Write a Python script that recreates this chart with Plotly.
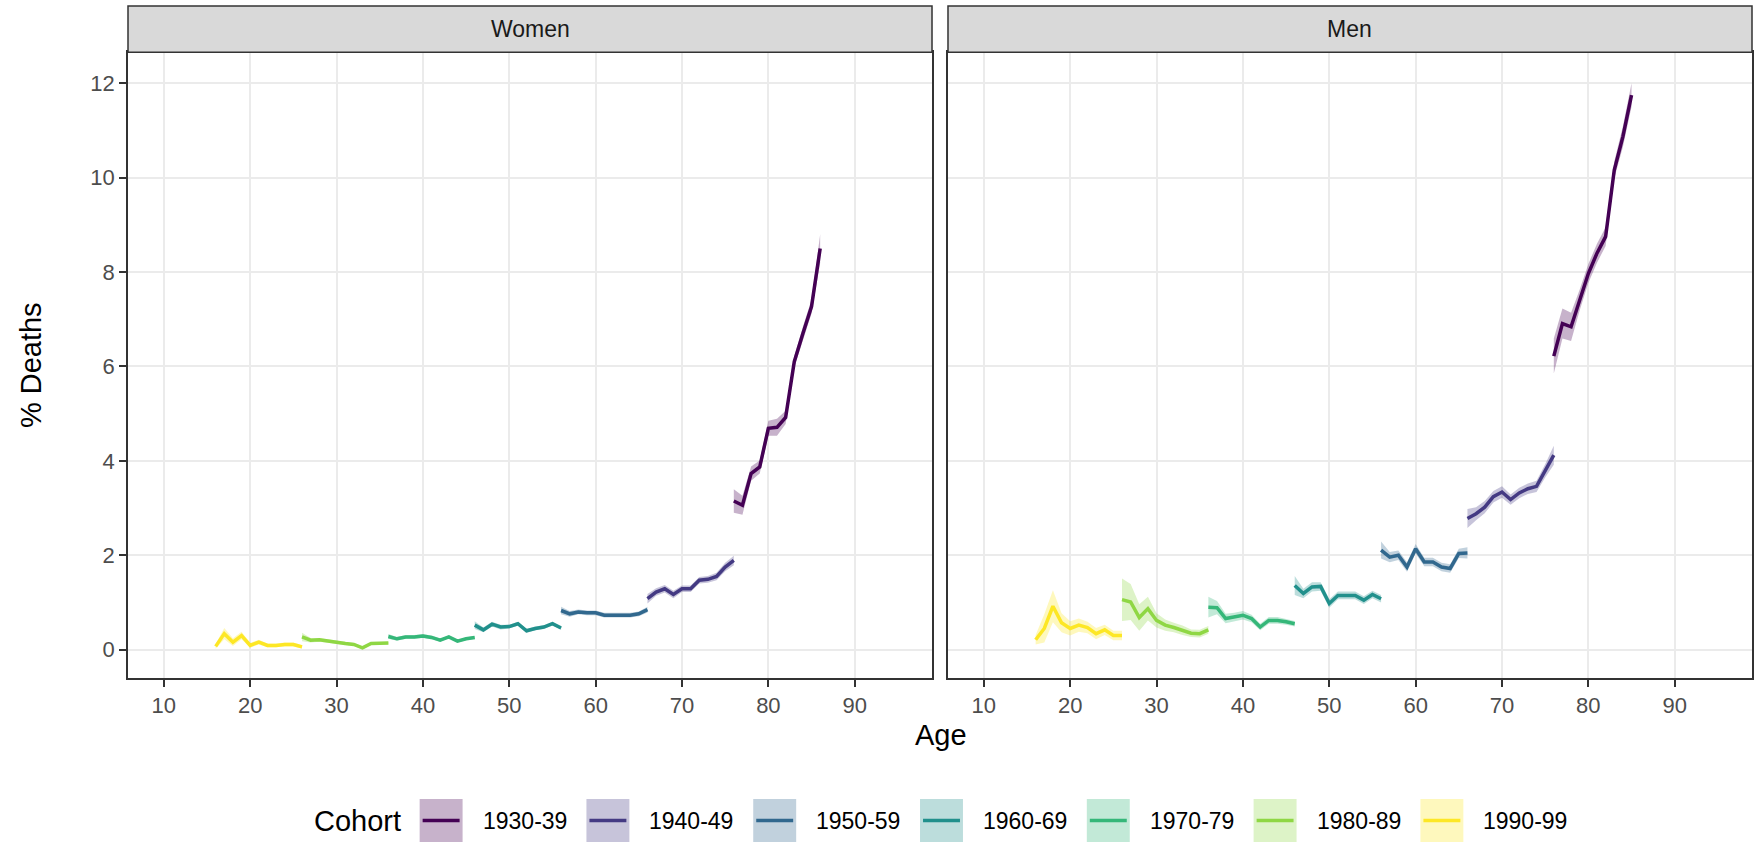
import plotly.graph_objects as go

# ---------------- data ----------------
COHORTS = ["1930-39", "1940-49", "1950-59", "1960-69", "1970-79", "1980-89", "1990-99"]
COLORS = ["#440154", "#443A83", "#31688E", "#21908C", "#35B779", "#8FD744", "#FDE725"]
AGE_START = [76, 66, 56, 46, 36, 26, 16]
PANELS = ["Women", "Men"]
X_TICKS = [10, 20, 30, 40, 50, 60, 70, 80, 90]
Y_TICKS = [0, 2, 4, 6, 8, 10, 12]

# Women: % deaths by age (one value per year of age from the cohort's start age)
W_1930 = [3.15, 3.06, 3.73, 3.87, 4.69, 4.71, 4.92, 6.10, 6.70, 7.27, 8.50]
W_1940 = [1.08, 1.22, 1.29, 1.17, 1.29, 1.29, 1.47, 1.49, 1.55, 1.75, 1.89]
W_1950 = [0.83, 0.76, 0.80, 0.78, 0.78, 0.73, 0.73, 0.73, 0.73, 0.76, 0.85]
W_1960 = [0.52, 0.42, 0.54, 0.48, 0.49, 0.55, 0.40, 0.45, 0.48, 0.55, 0.46]
W_1970 = [0.28, 0.23, 0.27, 0.27, 0.29, 0.26, 0.20, 0.27, 0.18, 0.23, 0.26]
W_1980 = [0.27, 0.20, 0.21, 0.18, 0.16, 0.13, 0.11, 0.04, 0.13, 0.13, 0.14]
W_1990 = [0.07, 0.34, 0.16, 0.30, 0.09, 0.16, 0.09, 0.09, 0.11, 0.11, 0.06]

# Women: half-width of the confidence band
W_1930_CI = [0.25, 0.20, 0.15, 0.14, 0.16, 0.18, 0.14, 0.12, 0.14, 0.15, 0.30]
W_1940_CI = [0.10, 0.08, 0.08, 0.08, 0.07, 0.07, 0.07, 0.07, 0.08, 0.09, 0.10]
W_1950_CI = [0.08, 0.06, 0.05, 0.05, 0.05, 0.05, 0.05, 0.05, 0.05, 0.05, 0.06]
W_1960_CI = [0.08, 0.05, 0.05, 0.05, 0.04, 0.04, 0.04, 0.04, 0.04, 0.04, 0.04]
W_1970_CI = [0.05, 0.04, 0.04, 0.04, 0.04, 0.04, 0.03, 0.03, 0.03, 0.03, 0.03]
W_1980_CI = [0.09, 0.05, 0.04, 0.04, 0.04, 0.03, 0.03, 0.03, 0.03, 0.03, 0.03]
W_1990_CI = [0.05, 0.12, 0.08, 0.08, 0.05, 0.05, 0.04, 0.04, 0.04, 0.04, 0.04]

# Men
M_1930 = [6.22, 6.91, 6.84, 7.41, 7.97, 8.40, 8.75, 10.16, 10.87, 11.75]
M_1940 = [2.78, 2.88, 3.02, 3.24, 3.34, 3.18, 3.32, 3.41, 3.46, 3.79, 4.12]
M_1950 = [2.11, 1.96, 2.00, 1.75, 2.14, 1.86, 1.86, 1.75, 1.72, 2.04, 2.05]
M_1960 = [1.36, 1.19, 1.33, 1.34, 0.98, 1.15, 1.15, 1.15, 1.05, 1.17, 1.08]
M_1970 = [0.90, 0.89, 0.66, 0.69, 0.73, 0.66, 0.48, 0.62, 0.62, 0.59, 0.55]
M_1980 = [1.06, 1.01, 0.68, 0.87, 0.62, 0.52, 0.47, 0.41, 0.35, 0.34, 0.42]
M_1990 = [0.21, 0.45, 0.92, 0.57, 0.45, 0.52, 0.47, 0.34, 0.42, 0.30, 0.30]

M_1930_CI = [0.37, 0.32, 0.30, 0.22, 0.20, 0.20, 0.20, 0.18, 0.22, 0.25]
M_1940_CI = [0.20, 0.14, 0.13, 0.12, 0.12, 0.11, 0.11, 0.11, 0.12, 0.14, 0.20]
M_1950_CI = [0.18, 0.11, 0.10, 0.10, 0.10, 0.09, 0.09, 0.09, 0.09, 0.10, 0.12]
M_1960_CI = [0.20, 0.10, 0.10, 0.09, 0.09, 0.08, 0.08, 0.08, 0.08, 0.08, 0.08]
M_1970_CI = [0.22, 0.14, 0.10, 0.09, 0.09, 0.08, 0.07, 0.07, 0.07, 0.06, 0.06]
M_1980_CI = [0.45, 0.38, 0.28, 0.25, 0.15, 0.12, 0.10, 0.10, 0.08, 0.08, 0.08]
M_1990_CI = [0.10, 0.30, 0.34, 0.20, 0.15, 0.14, 0.12, 0.12, 0.11, 0.10, 0.10]

WOMEN = [W_1930, W_1940, W_1950, W_1960, W_1970, W_1980, W_1990]
WOMEN_CI = [W_1930_CI, W_1940_CI, W_1950_CI, W_1960_CI, W_1970_CI, W_1980_CI, W_1990_CI]
MEN = [M_1930, M_1940, M_1950, M_1960, M_1970, M_1980, M_1990]
MEN_CI = [M_1930_CI, M_1940_CI, M_1950_CI, M_1960_CI, M_1970_CI, M_1980_CI, M_1990_CI]

# ---------------- layout geometry (pixels) ----------------
FIG_W, FIG_H = 1758, 844
L, R, T, B = 128, 1754, 6, 678          # plot area edges
PW, PH = R - L, B - T
PANEL_TOP = 52.3
LEFT_PANEL = (128, 933)
RIGHT_PANEL = (949, 1754)
FONT = "Liberation Sans, Arial, Helvetica, sans-serif"
LINE_W = 3.5


def px(x):
    return (x - L) / PW


def py(y):
    return (B - y) / PH


def rgba(hex_color, a):
    h = hex_color.lstrip("#")
    return f"rgba({int(h[0:2], 16)},{int(h[2:4], 16)},{int(h[4:6], 16)},{a})"


fig = go.Figure()

panel_axes = [("x", "y"), ("x2", "y2")]
for pi, (vals_list, ci_list) in enumerate([(WOMEN, WOMEN_CI), (MEN, MEN_CI)]):
    xa, ya = panel_axes[pi]
    # ribbons
    for ci_idx, (vals, ci) in enumerate(zip(vals_list, ci_list)):
        ages = list(range(AGE_START[ci_idx], AGE_START[ci_idx] + len(vals)))
        hi = [v + c for v, c in zip(vals, ci)]
        lo = [max(v - c, 0) for v, c in zip(vals, ci)]
        fig.add_trace(go.Scatter(
            x=ages + ages[::-1], y=hi + lo[::-1], fill="toself",
            fillcolor=rgba(COLORS[ci_idx], 0.3), line=dict(width=0),
            mode="lines", hoverinfo="skip", showlegend=False,
            xaxis=xa, yaxis=ya))
    # lines
    for ci_idx, vals in enumerate(vals_list):
        ages = list(range(AGE_START[ci_idx], AGE_START[ci_idx] + len(vals)))
        fig.add_trace(go.Scatter(
            x=ages, y=vals, mode="lines", name=COHORTS[ci_idx],
            line=dict(color=COLORS[ci_idx], width=LINE_W),
            showlegend=False, xaxis=xa, yaxis=ya))

XR = [5.85, 98.95]
YR = [-0.60, 12.656]
ydom = [0, py(PANEL_TOP)]

axis_common = dict(
    showgrid=True, gridcolor="#EBEBEB", gridwidth=1.6,
    zeroline=False, showline=True, mirror=True,
    linecolor="#333333", linewidth=1.5,
    ticks="outside", ticklen=7, tickwidth=1.5, tickcolor="#333333",
    tickfont=dict(family=FONT, size=22, color="#4D4D4D"),
)

fig.update_layout(
    width=FIG_W, height=FIG_H,
    margin=dict(l=L, r=FIG_W - R, t=T, b=FIG_H - B, pad=0),
    paper_bgcolor="white", plot_bgcolor="white",
    showlegend=False,
    xaxis=dict(domain=[px(LEFT_PANEL[0]), px(LEFT_PANEL[1])], range=XR,
               tickvals=X_TICKS, anchor="y", **axis_common),
    yaxis=dict(domain=ydom, range=YR, tickvals=Y_TICKS, anchor="x", **axis_common),
    xaxis2=dict(domain=[px(RIGHT_PANEL[0]), px(RIGHT_PANEL[1])], range=XR,
                tickvals=X_TICKS, anchor="y2", **axis_common),
    yaxis2=dict(domain=ydom, range=YR, tickvals=Y_TICKS, anchor="x2",
                showticklabels=False, **{k: v for k, v in axis_common.items()
                                         if k not in ("ticks", "ticklen")}),
)
fig.update_layout(yaxis2=dict(ticks=""))

shapes = []
annotations = []

# facet strips
for (x0, x1), label in zip([LEFT_PANEL, RIGHT_PANEL], PANELS):
    shapes.append(dict(type="rect", xref="paper", yref="paper",
                       x0=px(x0), x1=px(x1), y0=py(PANEL_TOP), y1=py(T),
                       fillcolor="#D9D9D9", line=dict(color="#333333", width=1.5),
                       layer="above"))
    annotations.append(dict(xref="paper", yref="paper", x=px((x0 + x1) / 2),
                            y=py((PANEL_TOP + T) / 2), text=label, showarrow=False,
                            xanchor="center", yanchor="middle",
                            font=dict(family=FONT, size=23, color="#1A1A1A")))

# axis titles
annotations.append(dict(xref="paper", yref="paper", x=px(942), y=py(735), text="Age",
                        showarrow=False, xanchor="center", yanchor="middle",
                        font=dict(family=FONT, size=29, color="black")))
annotations.append(dict(xref="paper", yref="paper", x=px(31), y=py(365), text="% Deaths",
                        showarrow=False, xanchor="center", yanchor="middle", textangle=-90,
                        font=dict(family=FONT, size=29, color="black")))

# legend (drawn manually: ribbon-coloured key with line)
LEG_Y = 820.5
KEY = 43
annotations.append(dict(xref="paper", yref="paper", x=px(312), y=py(LEG_Y), text="Cohort",
                        showarrow=False, xanchor="left", yanchor="middle",
                        font=dict(family=FONT, size=29, color="black")))
for i, (lab, col) in enumerate(zip(COHORTS, COLORS)):
    kx = 420 + 167 * i
    shapes.append(dict(type="rect", xref="paper", yref="paper",
                       x0=px(kx), x1=px(kx + KEY), y0=py(LEG_Y + KEY / 2), y1=py(LEG_Y - KEY / 2),
                       fillcolor=rgba(col, 0.3), line=dict(width=0)))
    shapes.append(dict(type="line", xref="paper", yref="paper",
                       x0=px(kx + 3), x1=px(kx + KEY - 3), y0=py(LEG_Y), y1=py(LEG_Y),
                       line=dict(color=col, width=LINE_W)))
    annotations.append(dict(xref="paper", yref="paper", x=px(kx + 61), y=py(LEG_Y), text=lab,
                            showarrow=False, xanchor="left", yanchor="middle",
                            font=dict(family=FONT, size=23, color="black")))

fig.update_layout(shapes=shapes, annotations=annotations)
fig.write_html("out.html")
